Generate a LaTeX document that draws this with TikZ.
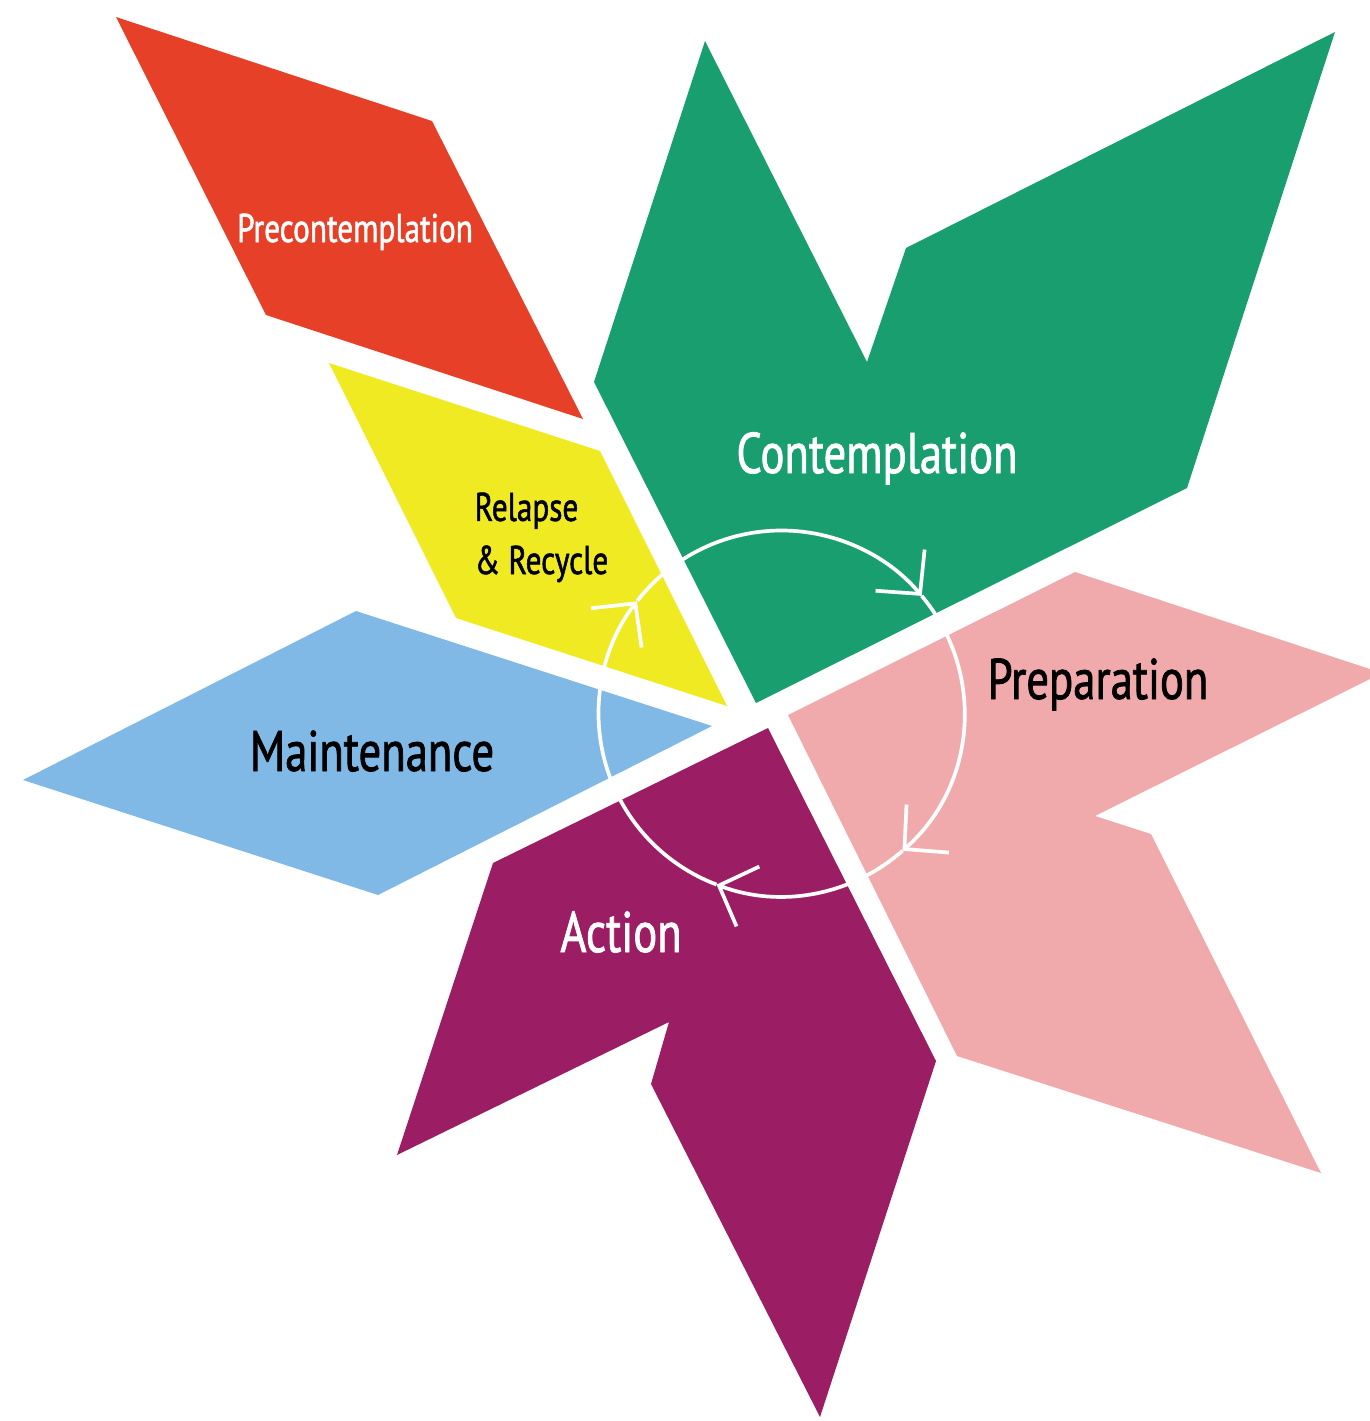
\documentclass[tikz,border=0pt]{standalone}
\usepackage{fontspec}
\usepackage{tikz}
\usetikzlibrary{arrows.meta,positioning}
\newfontfamily\stagefont{PT Sans}[FakeStretch=0.78, FakeBold=1.3]
\definecolor{stred}{RGB}{230,65,40}
\definecolor{styellow}{RGB}{239,234,34}
\definecolor{stgreen}{RGB}{25,158,112}
\definecolor{stpink}{RGB}{241,170,172}
\definecolor{stblue}{RGB}{128,185,230}
\definecolor{stpurple}{RGB}{155,30,100}
\tikzstyle{biglabel} = [font=\stagefont\fontsize{16.3}{19}\selectfont, inner sep=0pt, anchor=base]
\tikzstyle{smalllabel} = [font=\stagefont\fontsize{11.4}{15.1}\selectfont, inner sep=0pt, anchor=base]
\tikzstyle{cyclearrow} = [white, line width=1.05pt, -{Straight Barb[length=0.31cm,width=0.64cm]}]

\begin{document}
\begin{tikzpicture}[x=0.01cm, y=-0.01cm]
    \useasboundingbox (0,0) rectangle (1370,1421);

    % Petals
    \fill[stred] (583,419) -- (432,121) -- (116,17) -- (266,315) -- cycle;
    \fill[styellow] (727,706) -- (600,451) -- (329,363) -- (456,618) -- cycle;
    \fill[stblue] (712,726) -- (356,611) -- (23,780) -- (378,895) -- cycle;
    \fill[stgreen] (756,703) -- (594,382) -- (705,41) -- (867,362) -- (906,248) -- (1335,32) -- (1187,488) -- cycle;
    \fill[stpink] (788,715) -- (1075,572) -- (1382,673) -- (1095,816) -- (1151,834) -- (1321,1173) -- (957,1056) -- cycle;
    \fill[stpurple] (768,728) -- (493,863) -- (397,1155) -- (669,1022) -- (651,1084) -- (820,1417) -- (936,1061) -- cycle;

    % Cycle
    \coordinate (hub) at (781.5,713.5);
    \draw[cyclearrow] (hub) ++(-142:183) arc[start angle=-142, end angle=-40, radius=183];
    \draw[cyclearrow] (hub) ++(-40:183) arc[start angle=-40, end angle=48.6, radius=183];
    \draw[cyclearrow] (hub) ++(48.6:183) arc[start angle=48.6, end angle=110.8, radius=183];
    \draw[cyclearrow] (hub) ++(110.8:183) arc[start angle=110.8, end angle=217.8, radius=183];

    % Labels
    \node[smalllabel, white] (precontemplation) at (355,242) {Precontemplation};
    \node[biglabel, white] (contemplation) at (877,473) {Contemplation};
    \node[biglabel] (preparation) at (1098,699) {Preparation};
    \node[biglabel, white] (action) at (621,952) {Action};
    \node[biglabel] (maintenance) at (372,771) {Maintenance};
    \node[smalllabel, align=left, anchor=base west] (relapse) at (474,574) {Relapse\\\& Recycle};
\end{tikzpicture}
\end{document}
